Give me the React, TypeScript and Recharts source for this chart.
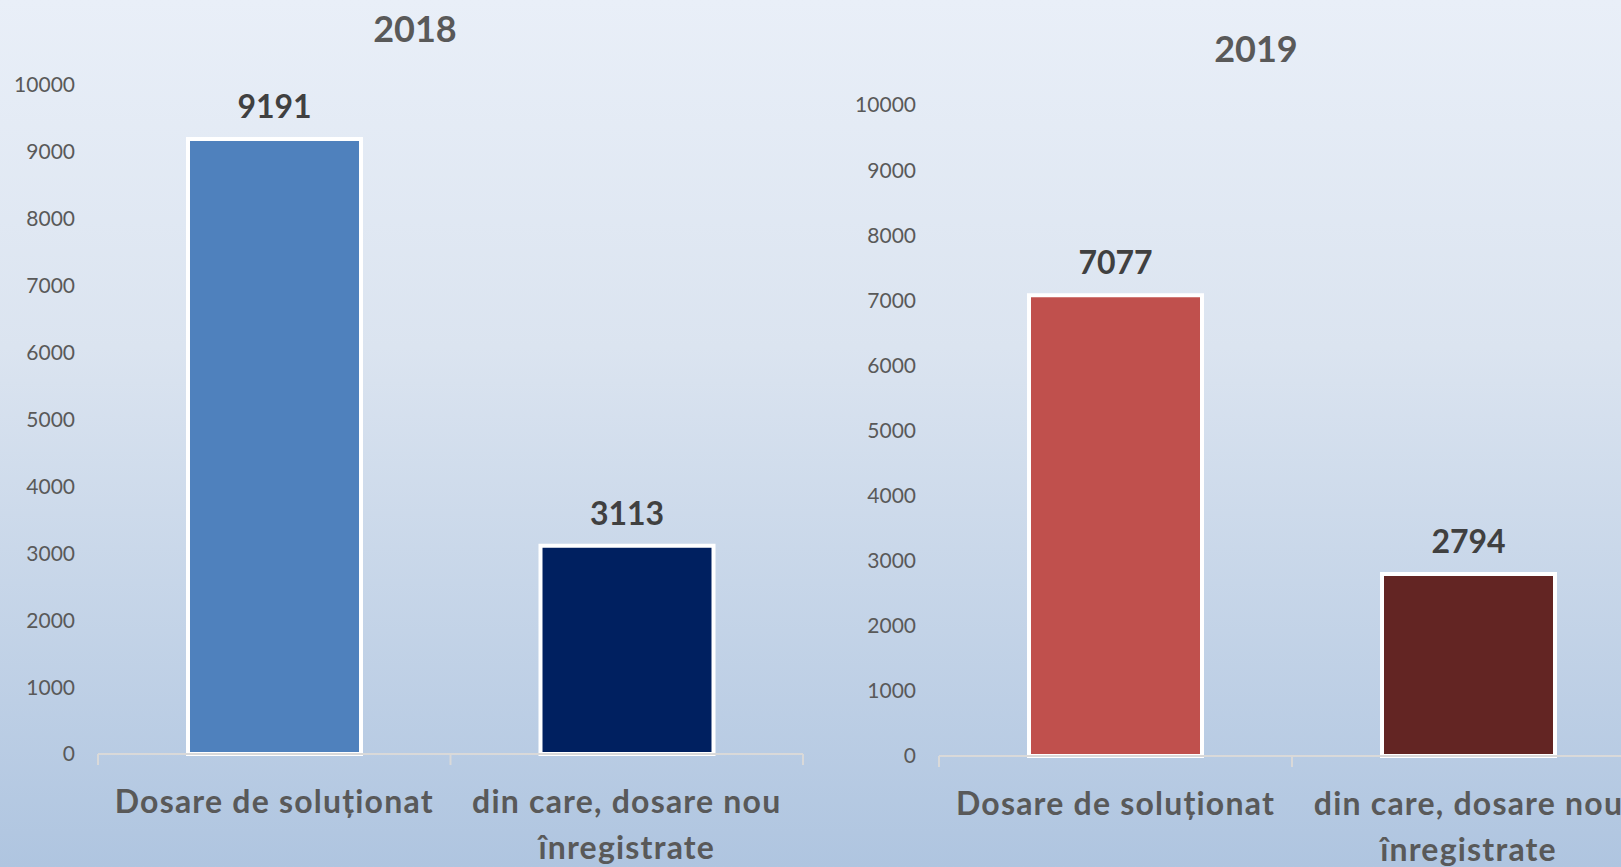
import React from "react";
import { BarChart, Bar, XAxis, YAxis, Cell, LabelList } from "recharts";

const categories = ["Dosare de soluționat", "din care, dosare nou\nînregistrate"];
const values2018 = [9191, 3113];
const values2019 = [7077, 2794];
const colors2018 = ["#4f81bd", "#002060"];
const colors2019 = ["#c0504d", "#632523"];
const yTicks = [0, 1000, 2000, 3000, 4000, 5000, 6000, 7000, 8000, 9000, 10000];
const titles = ["2018", "2019"];

const FONT = "Lato, 'Open Sans', sans-serif";

function CategoryTick(props: any) {
  const { x, y, payload, index, visibleTicksCount } = props;
  const half = payload && typeof payload.offset === "number" ? payload.offset : 0;
  const lines = String(payload.value).split("\n");
  return (
    <g>
      <line x1={x - half} x2={x - half} y1={y} y2={y + 11} stroke="#d9d9d9" strokeWidth={2} />
      {index === visibleTicksCount - 1 && (
        <line x1={x + half} x2={x + half} y1={y} y2={y + 11} stroke="#d9d9d9" strokeWidth={2} />
      )}
      <text
        x={x}
        y={y}
        textAnchor="middle"
        fill="#595959"
        fontSize={32}
        fontWeight={700}
        letterSpacing={1.2}
        fontFamily={FONT}
      >
        {lines.map((l, i) => (
          <tspan key={i} x={x} dy={i === 0 ? 59 : 46}>
            {l}
          </tspan>
        ))}
      </text>
    </g>
  );
}

function YearChart(props: {
  values: number[];
  colors: string[];
  width: number;
  height: number;
  margin: { top: number; right: number; bottom: number; left: number };
  xAxisHeight: number;
}) {
  const data = categories.map((c, i) => ({ name: c, value: props.values[i] }));
  return (
    <BarChart width={props.width} height={props.height} data={data} margin={props.margin} barSize={173}>
      <XAxis
        dataKey="name"
        interval={0}
        height={props.xAxisHeight}
        axisLine={{ stroke: "#d9d9d9", strokeWidth: 2 }}
        tickLine={false}
        tickSize={0}
        tickMargin={0}
        tick={(p: any) => <CategoryTick {...p} />}
      />
      <YAxis
        domain={[0, 10000]}
        ticks={yTicks}
        interval={0}
        width={78}
        axisLine={false}
        tickLine={false}
        tickSize={0}
        tickMargin={23}
        tick={{ fill: "#595959", fontSize: 21, fontFamily: FONT }}
      />
      <Bar dataKey="value" isAnimationActive={false} stroke="#ffffff" strokeWidth={4}>
        {data.map((d, i) => (
          <Cell key={i} fill={props.colors[i]} />
        ))}
        <LabelList
          dataKey="value"
          position="top"
          offset={21}
          fill="#404040"
          fontSize={32}
          fontWeight={700}
          fontFamily={FONT}
        />
      </Bar>
    </BarChart>
  );
}

export default function App() {
  const titleStyle: React.CSSProperties = {
    position: "absolute",
    width: 200,
    height: 40,
    lineHeight: "40px",
    textAlign: "center",
    fontFamily: FONT,
    fontWeight: 700,
    fontSize: 36,
    color: "#595959",
  };
  return (
    <div
      style={{
        position: "absolute",
        left: 0,
        top: 0,
        width: 1621,
        height: 867,
        overflow: "hidden",
        background: "linear-gradient(180deg, #e9eff8 0%, #dbe4f0 40%, #afc5e0 100%)",
      }}
    >
      <div style={{ position: "absolute", left: 0, top: 0 }}>
        <YearChart
          values={values2018}
          colors={colors2018}
          width={830}
          height={867}
          margin={{ top: 85, right: 27, bottom: 0, left: 20 }}
          xAxisHeight={113}
        />
      </div>
      <div style={{ position: "absolute", left: 835, top: 0 }}>
        <YearChart
          values={values2019}
          colors={colors2019}
          width={842}
          height={867}
          margin={{ top: 105, right: 32, bottom: 0, left: 26 }}
          xAxisHeight={111}
        />
      </div>
      <div style={{ ...titleStyle, left: 315, top: 8 }}>{titles[0]}</div>
      <div style={{ ...titleStyle, left: 1156, top: 28 }}>{titles[1]}</div>
    </div>
  );
}
